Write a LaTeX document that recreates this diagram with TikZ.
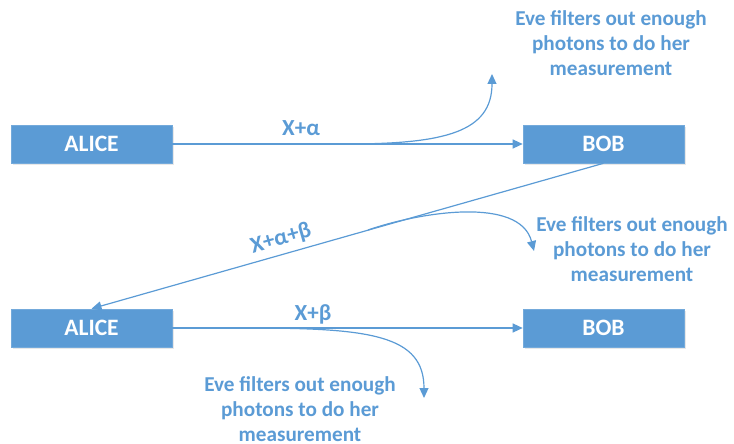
\documentclass[tikz,border=0pt]{standalone}
\usepackage{fontspec}
\setmainfont{Carlito}
\usetikzlibrary{arrows.meta,shadows}
\definecolor{ofblue}{HTML}{5B9BD5}
\tikzset{
  box/.style={fill=ofblue, draw=ofblue!85!white, line width=0.6pt, minimum width=161pt, minimum height=38pt, inner sep=0pt,
    text=white, font=\fontsize{23.5}{26}\selectfont\bfseries,
    drop shadow={opacity=0.18, shadow xshift=1.5pt, shadow yshift=-2pt}},
  arr/.style={draw=ofblue, line width=1.2pt, -{Triangle[length=10pt,width=9pt]}},
  lbl/.style={text=ofblue, font=\fontsize{23}{26}\selectfont\bfseries, inner sep=0pt},
  evetext/.style={text=ofblue, align=center, font=\fontsize{21.2}{25}\selectfont\bfseries, inner sep=0pt}
}
\begin{document}
\begin{tikzpicture}[x={(1pt,0pt)}, y={(0pt,-1pt)}]
\useasboundingbox (0,0) rectangle (734,444);
\node[box] (a1) at (91.5,144) {ALICE};
\node[box] (b1) at (603.5,144) {BOB};
\node[box] (a2) at (91.5,328) {ALICE};
\node[box] (b2) at (603.5,328) {BOB};
% top
\draw[arr] (a1) -- (b1);
\node[lbl] (l1) at (301,128) {X+α};
\coordinate (e1s) at (346,144);
\coordinate (e1e) at (492,74);
\draw[arr] (e1s) .. controls (445,144) and (492,132) .. (e1e);
\node[evetext] (t1) at (611,43) {Eve filters out enough\\photons to do her\\measurement};
% diagonal
\draw[arr] (b1.south) -- (a2.north);
\node[lbl, rotate=15.9] (l2) at (281,239) {X+α+β};
\coordinate (e2s) at (368,230);
\coordinate (e2e) at (534,251);
\draw[arr] (e2s) .. controls (420,212) and (520,196) .. (e2e);
\node[evetext] (t2) at (632,249) {Eve filters out enough\\photons to do her\\measurement};
% bottom
\draw[arr] (a2) -- (b2);
\node[lbl] (l3) at (313,314) {X+β};
\coordinate (e3s) at (248,328);
\coordinate (e3e) at (424,398);
\draw[arr] (e3s) .. controls (370,328) and (424,335) .. (e3e);
\node[evetext] (t3) at (300,409) {Eve filters out enough\\photons to do her\\measurement};
\end{tikzpicture}
\end{document}
